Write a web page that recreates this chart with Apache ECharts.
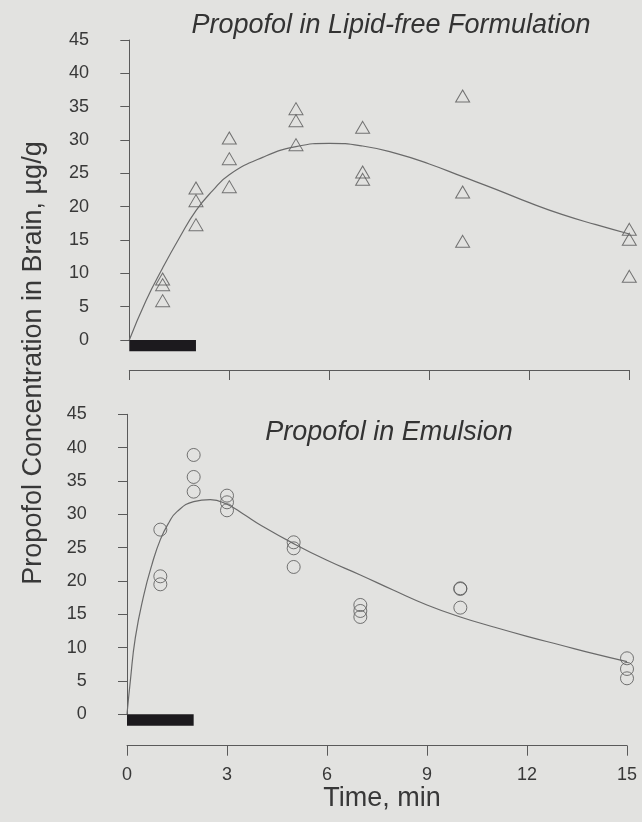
<!DOCTYPE html>
<html>
<head>
<meta charset="utf-8">
<script src="https://cdn.jsdelivr.net/npm/echarts@6/dist/echarts.min.js"></script>
<style>
html,body{margin:0;padding:0;background:#e2e2e0;}
#chart{width:642px;height:822px;}
</style>
</head>
<body>
<div id="chart"></div>
<script>
// ---- Data ----
const lipidFreeTimes  = [1,1,1, 2,2,2, 3,3,3, 5,5,5, 7,7,7, 10,10,10, 15,15,15];
const lipidFreeValues = [9.15,8.3,5.9, 22.8,20.9,17.3, 30.3,27.2,23.0, 34.7,32.9,29.3, 31.9,25.2,24.1, 36.6,22.2,14.8, 16.6,15.1,9.55];
const lipidFreeFitTimes  = [0,0.5,1,1.5,2,2.5,3,4,5,6,7,8,9,10,11,12,13,14,15];
const lipidFreeFitValues = [0,5.9,10.8,15.3,19.4,22.4,24.8,27.4,29.0,29.5,29.1,28.0,26.4,24.5,22.6,20.6,18.8,17.3,15.9];

const emulsionTimes  = [1,1,1, 2,2,2, 3,3,3, 5,5,5, 7,7,7, 10,10,10, 15,15,15];
const emulsionValues = [27.7,20.7,19.5, 38.9,35.6,33.4, 32.8,31.8,30.6, 25.8,24.9,22.1, 16.4,15.5,14.6, 18.9,18.8,16.0, 8.4,6.8,5.4];
const emulsionFitTimes  = [0,0.1,0.25,0.5,0.75,1,1.25,1.5,2,2.5,3,3.5,4,5,6,7,8,9,10,11,12,13,14,15];
const emulsionFitValues = [0,5,11.5,17.8,22.5,26.2,28.7,30.4,31.9,32.2,31.5,30.0,28.4,25.6,23.1,20.9,18.6,16.4,14.6,13.1,11.7,10.4,9.1,7.9];

// infusion bar: [start, end, depth below zero]
const infusion = [0, 2, 1.7];

const yTicks = {min: 0, max: 45, interval: 5};
const xTicks = {min: 0, max: 15, interval: 3};

const titles = ['Propofol in Lipid-free Formulation', 'Propofol in Emulsion'];
const yTitle = 'Propofol Concentration in Brain, µg/g';
const xTitle = 'Time, min';

// ---- Chart ----
const FONT = '"Liberation Sans", Arial, Helvetica, sans-serif';
const AX = '#5a5a5a';
const TXT = '#383838';
const pair = (a, b) => a.map((v, i) => [v, b[i]]);

const chart = echarts.init(document.getElementById('chart'), null, {renderer: 'canvas'});

function yAxis(idx, offset) {
  return {
    type: 'value', gridIndex: idx, min: yTicks.min, max: yTicks.max, interval: yTicks.interval,
    offset: offset,
    axisLine: {show: true, lineStyle: {color: AX, width: 1}},
    axisTick: {show: true, inside: false, length: 9, lineStyle: {color: AX, width: 1}},
    axisLabel: {show: true, color: TXT, fontSize: 18, fontFamily: FONT, margin: 16},
    splitLine: {show: false}
  };
}
function xAxis(idx, offset, labels) {
  const a = {
    type: 'value', gridIndex: idx, min: xTicks.min, max: xTicks.max, interval: xTicks.interval,
    offset: offset,
    axisLine: {show: true, onZero: false, lineStyle: {color: AX, width: 1}},
    axisTick: {show: true, inside: false, length: 10, lineStyle: {color: AX, width: 1}},
    axisLabel: {show: labels, color: TXT, fontSize: 18, fontFamily: FONT, margin: 20},
    splitLine: {show: false}
  };
  if (labels) {
    a.name = xTitle;
    a.nameLocation = 'middle';
    a.nameGap = 38;
    a.nameTextStyle = {color: TXT, fontSize: 27, fontFamily: FONT, verticalAlign: 'top', padding: [0, 0, 0, 10]};
  }
  return a;
}
function barSeries(idx) {
  return {
    type: 'custom', xAxisIndex: idx, yAxisIndex: idx, clip: false, silent: true,
    data: [infusion],
    renderItem: function (params, api) {
      const p0 = api.coord([api.value(0), 0]);
      const p1 = api.coord([api.value(1), -api.value(2)]);
      return {type: 'rect', shape: {x: p0[0], y: p0[1], width: p1[0] - p0[0], height: p1[1] - p0[1]},
              style: {fill: '#1c1a1e'}};
    }
  };
}
function fitSeries(idx, t, v) {
  return {
    type: 'line', xAxisIndex: idx, yAxisIndex: idx, data: pair(t, v),
    showSymbol: false, smooth: 0.5, silent: true,
    lineStyle: {color: '#6a6a6a', width: 1.2}
  };
}
function ptSeries(idx, t, v, sym, size) {
  return {
    type: 'scatter', xAxisIndex: idx, yAxisIndex: idx, data: pair(t, v),
    symbol: sym, symbolSize: size, silent: true,
    itemStyle: {color: 'rgba(0,0,0,0)', borderColor: '#555', borderWidth: 1}
  };
}

chart.setOption({
  backgroundColor: '#e2e2e0',
  animation: false,
  grid: [
    {left: 129.3, top: 40, width: 500, height: 300},
    {left: 127, top: 414.3, width: 500, height: 300}
  ],
  xAxis: [xAxis(0, 30, false), xAxis(1, 31.4, true)],
  yAxis: [yAxis(0, 24.3), yAxis(1, 24.3)],
  series: [
    barSeries(0),
    fitSeries(0, lipidFreeFitTimes, lipidFreeFitValues),
    ptSeries(0, lipidFreeTimes, lipidFreeValues, 'triangle', [14, 12]),
    barSeries(1),
    fitSeries(1, emulsionFitTimes, emulsionFitValues),
    ptSeries(1, emulsionTimes, emulsionValues, 'circle', 13)
  ],
  graphic: [
    {type: 'text', x: 391, y: 25, silent: true,
     style: {text: titles[0], font: 'italic 27px ' + FONT, fill: '#333', align: 'center', verticalAlign: 'middle', textAlign: 'center', textVerticalAlign: 'middle'}},
    {type: 'text', x: 389, y: 432, silent: true,
     style: {text: titles[1], font: 'italic 27px ' + FONT, fill: '#333', align: 'center', verticalAlign: 'middle', textAlign: 'center', textVerticalAlign: 'middle'}},
    {type: 'text', x: 34, y: 363, rotation: Math.PI / 2, silent: true,
     style: {text: yTitle, font: '27px ' + FONT, fill: TXT, align: 'center', verticalAlign: 'middle', textAlign: 'center', textVerticalAlign: 'middle'}}
  ]
});
</script>
</body>
</html>
